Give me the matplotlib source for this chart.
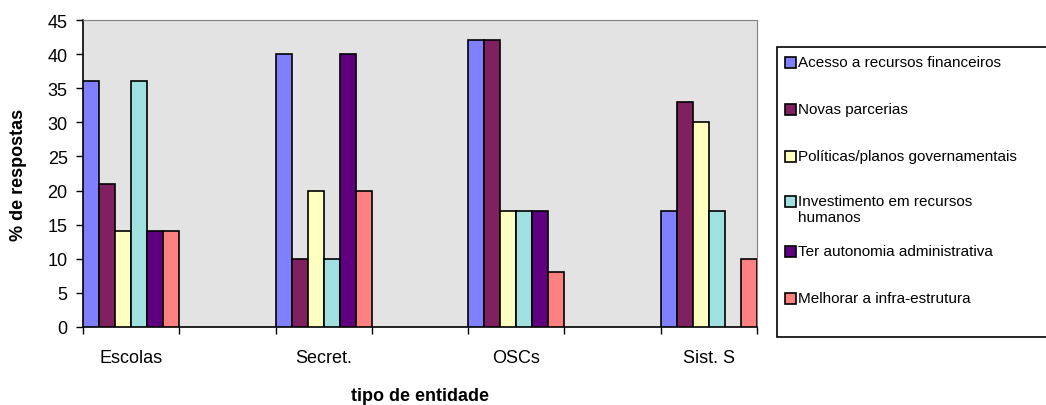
import matplotlib.pyplot as plt
from matplotlib.patches import Rectangle
import numpy as np

plt.rcParams['font.family'] = ['Liberation Sans', 'DejaVu Sans']

categories = ['Escolas', 'Secret.', 'OSCs', 'Sist. S']
series = [
    'Acesso a recursos financeiros',
    'Novas parcerias',
    'Políticas/planos governamentais',
    'Investimento em recursos\nhumanos',
    'Ter autonomia administrativa',
    'Melhorar a infra-estrutura',
]
acesso = [36, 40, 42, 17]
parcerias = [21, 10, 42, 33]
politicas = [14, 20, 17, 30]
investimento = [36, 10, 17, 17]
autonomia = [14, 40, 17, 0]
infra = [14, 20, 8, 10]
values = [acesso, parcerias, politicas, investimento, autonomia, infra]
colors = ['#8080ff', '#802060', '#ffffc0', '#a0e0e0', '#600080', '#ff8080']

W, H = 1046, 406
fig = plt.figure(figsize=(W / 100, H / 100), dpi=100)
ax = fig.add_axes([83 / W, (H - 328) / H, (757 - 83) / W, (328 - 21) / H])
ax.set_facecolor('#e3e3e3')

n = len(series)
bw = 1.0 / n
starts = np.arange(len(categories)) * 2.0
for i, (vals, c) in enumerate(zip(values, colors)):
    v = np.array(vals, dtype=float)
    mask = v > 0
    ax.bar(starts[mask] + i * bw, v[mask], width=bw, align='edge',
           color=c, edgecolor='black', linewidth=1.2, zorder=3)

ax.set_xlim(0, 7)
ax.set_ylim(0, 45)
ax.set_yticks(range(0, 46, 5))
ax.set_xticks(range(0, 8))
ax.set_xticklabels([])
ax.set_xticks(starts + 0.5, minor=True)
ax.set_xticklabels(categories, minor=True)
ax.tick_params(axis='x', which='minor', length=0, pad=16, labelsize=13)
ax.tick_params(axis='x', which='major', direction='out', length=5, width=1)
ax.tick_params(axis='y', direction='out', length=5, width=1, labelsize=13, pad=6)

for s in ['top', 'right']:
    ax.spines[s].set_color('#808080')
for s in ['left', 'bottom']:
    ax.spines[s].set_color('black')
    ax.spines[s].set_linewidth(1.2)

ax.set_ylabel('% de respostas', fontsize=13, fontweight='bold')
ax.yaxis.set_label_coords(-(83 - 27) / (757 - 83), 0.5)
fig.text(420 / W, (H - 401) / H, 'tipo de entidade', fontsize=13,
         fontweight='bold', ha='center', va='baseline')

# legend box drawn manually in pixel coordinates
fig.patches.append(Rectangle((777 / W, (H - 338) / H), (1060 - 777) / W, (338 - 48) / H,
                             transform=fig.transFigure, facecolor='white',
                             edgecolor='black', linewidth=1.2))
centers = [63, 110, 157, 202, 252, 299]
for label, c, yc in zip(series, colors, centers):
    fig.patches.append(Rectangle((785 / W, (H - yc - 5.5) / H), 11 / W, 11 / H,
                                 transform=fig.transFigure, facecolor=c,
                                 edgecolor='black', linewidth=1.2))
    fig.text(798 / W, (H - yc + 7) / H, label, fontsize=11, va='top', ha='left',
             linespacing=1.15)

fig.savefig('out.png', dpi=100)
